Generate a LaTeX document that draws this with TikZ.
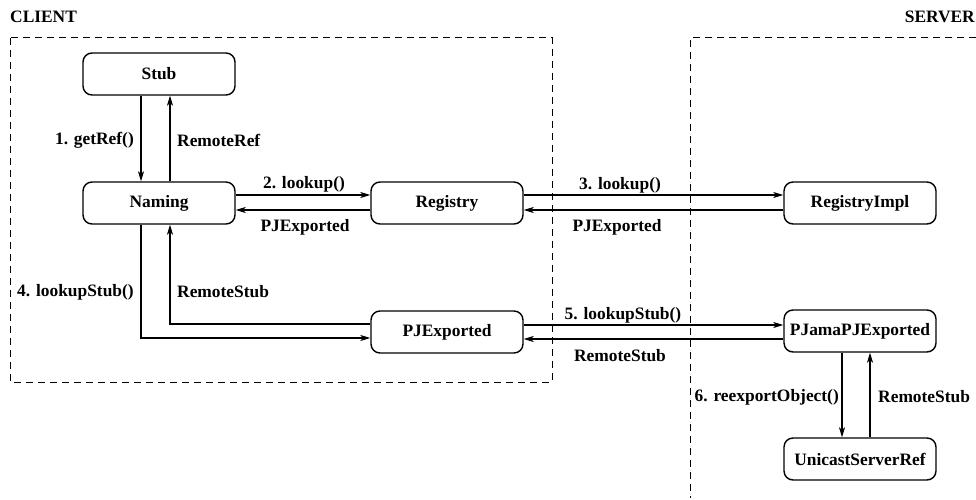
\documentclass[tikz,border=0pt]{standalone}
\usepackage{fontspec}
\setmainfont{Liberation Serif}
\usetikzlibrary{arrows.meta}
\usetikzlibrary{calc}

\begin{document}
\begin{tikzpicture}[x=1pt, y=-1pt,
	box/.style={draw, rounded corners=9pt, line width=1.4pt, minimum width=152pt, minimum height=42pt, font=\fontsize{17.4}{19}\selectfont\bfseries},
	lbl/.style={font=\fontsize{17.4}{19}\selectfont\bfseries, inner sep=0pt},
	msg/.style={line width=1.1pt, -{Stealth[length=10pt, width=6pt, inset=2.5pt]}},
	region/.style={line width=1pt, dash pattern=on 7pt off 5pt}]
	\useasboundingbox (0, 0) rectangle (976, 500);

	\node[lbl, anchor=west] (client) at (10, 17) {CLIENT};
	\node[lbl, anchor=east] (server) at (975, 17) {SERVER};
	\draw[region] (10, 38) rectangle (552, 382);
	\draw[region] (976, 38) -- (690, 38) -- (690, 498);

	\node[box] (Stub) at (159, 74) {Stub};
	\node[box] (Naming) at (159, 203) {Naming};
	\node[box] (Registry) at (447, 203) {Registry};
	\node[box] (RegistryImpl) at (860, 203) {RegistryImpl};
	\node[box] (PJExported) at (447, 332) {PJExported};
	\node[box] (PJamaPJExported) at (860, 331) {PJamaPJExported};
	\node[box] (UnicastServerRef) at (860, 459) {UnicastServerRef};

	\draw[msg] ([xshift=-18pt]Stub.south) -- ([xshift=-18pt]Naming.north);
	\draw[msg] ([xshift=11pt]Naming.north) -- ([xshift=11pt]Stub.south);
	\node[lbl, anchor=east] (getref) at (134, 140) {1. getRef()};
	\node[lbl, anchor=west] (remoteref) at (177, 140) {RemoteRef};

	\draw[msg] ([yshift=8pt]Naming.east) -- ([yshift=8pt]Registry.west);
	\draw[msg] ([yshift=-7pt]Registry.west) -- ([yshift=-7pt]Naming.east);
	\node[lbl] (lookupA) at (304, 184) {2. lookup()};
	\node[lbl] (pjA) at (305, 227) {PJExported};

	\draw[msg] ([yshift=8pt]Registry.east) -- ([yshift=8pt]RegistryImpl.west);
	\draw[msg] ([yshift=-7pt]RegistryImpl.west) -- ([yshift=-7pt]Registry.east);
	\node[lbl] (lookupB) at (620, 185) {3. lookup()};
	\node[lbl] (pjB) at (617, 227) {PJExported};

	\draw[msg] ([xshift=-18pt]Naming.south) |- ([yshift=-6pt]PJExported.west);
	\draw[msg] ([yshift=8pt]PJExported.west) -| ([xshift=11pt]Naming.south);
	\node[lbl, anchor=west] (stubA) at (17, 292) {4. lookupStub()};
	\node[lbl, anchor=west] (rstubA) at (177, 292) {RemoteStub};

	\draw[msg] ([yshift=7pt]PJExported.east) -- ([yshift=6pt]PJamaPJExported.west);
	\draw[msg] ([yshift=-8pt]PJamaPJExported.west) -- ([yshift=-7pt]PJExported.east);
	\node[lbl] (stubB) at (623, 315) {5. lookupStub()};
	\node[lbl] (rstubB) at (620, 356) {RemoteStub};

	\draw[msg] ([xshift=-18pt]PJamaPJExported.south) -- ([xshift=-18pt]UnicastServerRef.north);
	\draw[msg] ([xshift=10pt]UnicastServerRef.north) -- ([xshift=10pt]PJamaPJExported.south);
	\node[lbl, anchor=east] (reexport) at (839, 397) {6. reexportObject()};
	\node[lbl, anchor=west] (rstubC) at (878, 397) {RemoteStub};

\end{tikzpicture}
\end{document}
